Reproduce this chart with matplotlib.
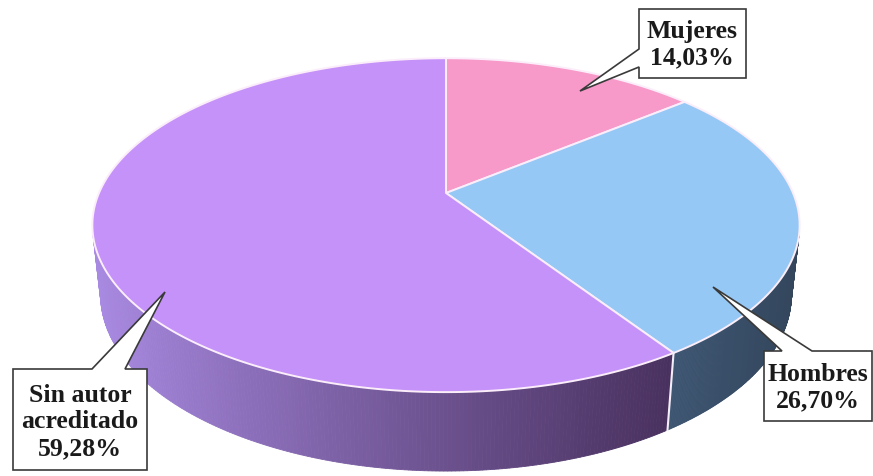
import numpy as np
import matplotlib.pyplot as plt
from matplotlib.patches import Polygon
from matplotlib.colors import to_rgb

labels = ["Mujeres", "Hombres", "Sin autor\nacreditado"]
values = [14.03, 26.70, 59.28]
pct_text = ["14,03%", "26,70%", "59,28%"]
top_colors = ["#f799c9", "#96c8f6", "#c592f9"]
side_light = ["#c0527f", "#3e5673", "#a98ae2"]
side_dark = ["#8a3a5c", "#33465c", "#49315f"]

# camera / pie geometry (pixel space of the 873x477 image)
elev = np.radians(27.6)
dist = 4.6
depth = 0.228
scale = 347
cx, cy = 446, 194


def project(theta, z=0.0, r=1.0):
    X = r * np.cos(theta)
    Y = r * np.sin(theta)
    w = dist + Y * np.cos(elev) - z * np.sin(elev)
    u = X * dist / w
    v = (Y * np.sin(elev) + z * np.cos(elev)) * dist / w
    return cx + scale * u, cy - scale * v


fig = plt.figure(figsize=(8.73, 4.77), dpi=100)
ax = fig.add_axes([0, 0, 1, 1])
ax.set_xlim(0, 873)
ax.set_ylim(477, 0)
ax.axis("off")

# slice angles, clockwise from 12 o'clock
fracs = np.array(values) / sum(values)
starts = np.radians(90) - 2 * np.pi * np.concatenate([[0], np.cumsum(fracs)[:-1]])
ends = starts - 2 * np.pi * fracs

# side walls (only the part facing the camera)
for i in range(len(values)):
    th = np.linspace(starts[i], ends[i], 400)
    for a, b in zip(th[:-1], th[1:]):
        if np.sin((a + b) / 2) > -1 / (dist * np.cos(elev)):
            continue
        xa, ya = project(a)
        xb, yb = project(b)
        xa2, ya2 = project(a, -depth)
        xb2, yb2 = project(b, -depth)
        if i == 2:
            t = np.clip((xa - 95) / (673 - 95), 0, 1) ** 0.9
        else:
            t = np.clip((xa - 673) / (800 - 673), 0, 1)
        col = (1 - t) * np.array(to_rgb(side_light[i])) + t * np.array(to_rgb(side_dark[i]))
        ax.add_patch(Polygon([(xa, ya), (xb, yb), (xb2, yb2), (xa2, ya2)],
                             closed=True, facecolor=col, edgecolor=col, lw=0.6))

# seam on the wall between visible slices
for i in range(len(values)):
    if np.sin(ends[i]) < -1 / (dist * np.cos(elev)):
        x1, y1 = project(ends[i])
        x2, y2 = project(ends[i], -depth)
        ax.plot([x1, x2], [y1, y2], color="#f4eef8", lw=1.5)

# top surface
for i in range(len(values)):
    th = np.linspace(starts[i], ends[i], 300)
    xs, ys = project(th)
    pts = [(cx, cy)] + list(zip(xs, ys))
    ax.add_patch(Polygon(pts, closed=True, facecolor=top_colors[i],
                         edgecolor="#fbeefa", lw=1.4, joinstyle="round"))

# callouts: box corners, pointer base on one edge, pointer tip
callouts = [
    dict(box=(639, 10, 746, 79), side="left", base=(50, 68), tip=(580, 92), tx=692, ty=45,
         text=labels[0] + "\n" + pct_text[0]),
    dict(box=(764, 352, 872, 422), side="top", base=(782, 812), tip=(713, 288), tx=818, ty=388,
         text=labels[1] + "\n" + pct_text[1]),
    dict(box=(13, 370, 147, 471), side="top", base=(92, 125), tip=(165, 293), tx=80, ty=422,
         text=labels[2] + "\n" + pct_text[2]),
]
for c in callouts:
    x0, y0, x1, y1 = c["box"]
    b1, b2 = c["base"]
    if c["side"] == "left":
        pts = [(x0, y0), (x1, y0), (x1, y1), (x0, y1), (x0, b2), c["tip"], (x0, b1)]
    else:
        pts = [(x0, y0), (b1, y0), c["tip"], (b2, y0), (x1, y0), (x1, y1), (x0, y1)]
    ax.add_patch(Polygon(pts, closed=True, facecolor="white", edgecolor="#3a3a3a",
                         lw=1.2, joinstyle="miter", zorder=5))
    ax.text(c["tx"], c["ty"], c["text"], ha="center", va="center", zorder=6,
            fontsize=18.5, fontweight="bold", family="Liberation Serif",
            color="#1a1a1a", linespacing=1.2)

fig.savefig("out.png", dpi=100)
